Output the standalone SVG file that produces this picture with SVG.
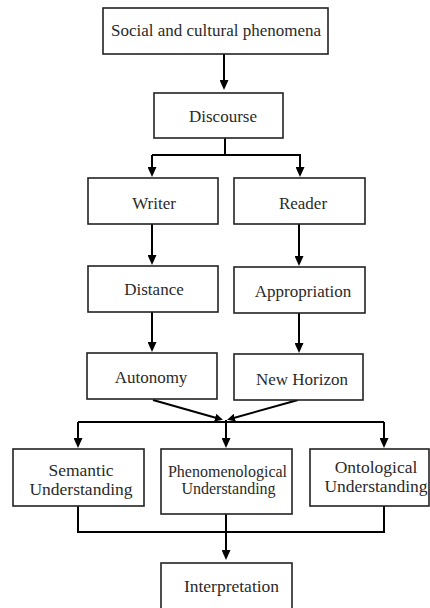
<svg xmlns="http://www.w3.org/2000/svg" width="430" height="608" viewBox="0 0 430 608">
<defs>
<style>
.box{fill:#fff;stroke:#222;stroke-width:1.6}
.t{font-family:"Liberation Serif","Times New Roman","DejaVu Serif",serif;font-size:17px;fill:#2a2a2a;text-anchor:middle}
.t2{font-size:17.5px}
.t3{font-size:16px}
.c{fill:none;stroke:#000;stroke-width:2}
</style>
<marker id="ah" markerUnits="userSpaceOnUse" markerWidth="10" markerHeight="9" refX="7" refY="4.5" orient="auto">
<path d="M0,0 L10,4.5 L0,9 z" fill="#000"/>
</marker>
<marker id="ahs" markerUnits="userSpaceOnUse" markerWidth="8" markerHeight="8" refX="5" refY="4" orient="auto">
<path d="M0,0 L8,4 L0,8 z" fill="#000"/>
</marker>
</defs>
<rect width="430" height="608" fill="#fff"/>
<g id="connectors">
<line class="c" x1="224" y1="54" x2="224" y2="87" marker-end="url(#ah)"/>
<polyline class="c" points="225,138 225,155"/>
<polyline class="c" points="152,155 300,155 300,174" marker-end="url(#ah)"/>
<line class="c" x1="152" y1="155" x2="152" y2="174" marker-end="url(#ah)"/>
<line class="c" x1="152" y1="224" x2="152" y2="262" marker-end="url(#ah)"/>
<line class="c" x1="299" y1="224" x2="299" y2="263" marker-end="url(#ah)"/>
<line class="c" x1="152" y1="312" x2="152" y2="349" marker-end="url(#ah)"/>
<line class="c" x1="299" y1="313" x2="299" y2="350" marker-end="url(#ah)"/>
<line class="c" x1="153" y1="400" x2="220" y2="419" marker-end="url(#ahs)"/>
<line class="c" x1="298" y1="400" x2="230" y2="419" marker-end="url(#ahs)"/>
<polyline class="c" points="78,422 384,422"/>
<line class="c" x1="78" y1="422" x2="78" y2="445" marker-end="url(#ah)"/>
<line class="c" x1="384" y1="422" x2="384" y2="445" marker-end="url(#ah)"/>
<line class="c" x1="226" y1="420" x2="226" y2="445" marker-end="url(#ah)"/>
<polyline class="c" points="78,506 78,532 384,532 384,506"/>
<line class="c" x1="226" y1="514" x2="226" y2="557" marker-end="url(#ah)"/>
</g>
<g id="n-social"><rect class="box" x="103" y="8" width="225" height="46"/><text class="t" x="216" y="36">Social and cultural phenomena</text></g>
<g id="n-discourse"><rect class="box" x="154" y="93" width="129" height="45"/><text class="t" x="223" y="122">Discourse</text></g>
<g id="n-writer"><rect class="box" x="88" y="178" width="130" height="46"/><text class="t" x="154" y="209">Writer</text></g>
<g id="n-reader"><rect class="box" x="234" y="178" width="131" height="46"/><text class="t" x="303" y="209">Reader</text></g>
<g id="n-distance"><rect class="box" x="88" y="266" width="130" height="46"/><text class="t" x="154" y="295">Distance</text></g>
<g id="n-appropriation"><rect class="box" x="234" y="267" width="131" height="46"/><text class="t" x="303" y="297">Appropriation</text></g>
<g id="n-autonomy"><rect class="box" x="87" y="353" width="130" height="46"/><text class="t" x="151" y="383">Autonomy</text></g>
<g id="n-newhorizon"><rect class="box" x="234" y="354" width="129" height="46"/><text class="t" x="302" y="385">New Horizon</text></g>
<g id="n-semantic"><rect class="box" x="13" y="449" width="131" height="57"/><text class="t t2" x="81" y="476">Semantic</text><text class="t t2" x="81" y="495">Understanding</text></g>
<g id="n-phenomenological"><rect class="box" x="161" y="449" width="131" height="65"/><text class="t t3" x="227.5" y="477">Phenomenological</text><text class="t t3" x="228.5" y="494">Understanding</text></g>
<g id="n-ontological"><rect class="box" x="310" y="449" width="119" height="57"/><text class="t t2" x="376" y="473">Ontological</text><text class="t t2" x="376" y="492">Understanding</text></g>
<g id="n-interpretation"><rect class="box" x="161" y="563" width="131" height="52"/><text class="t t2" x="231.5" y="592">Interpretation</text></g>
</svg>
